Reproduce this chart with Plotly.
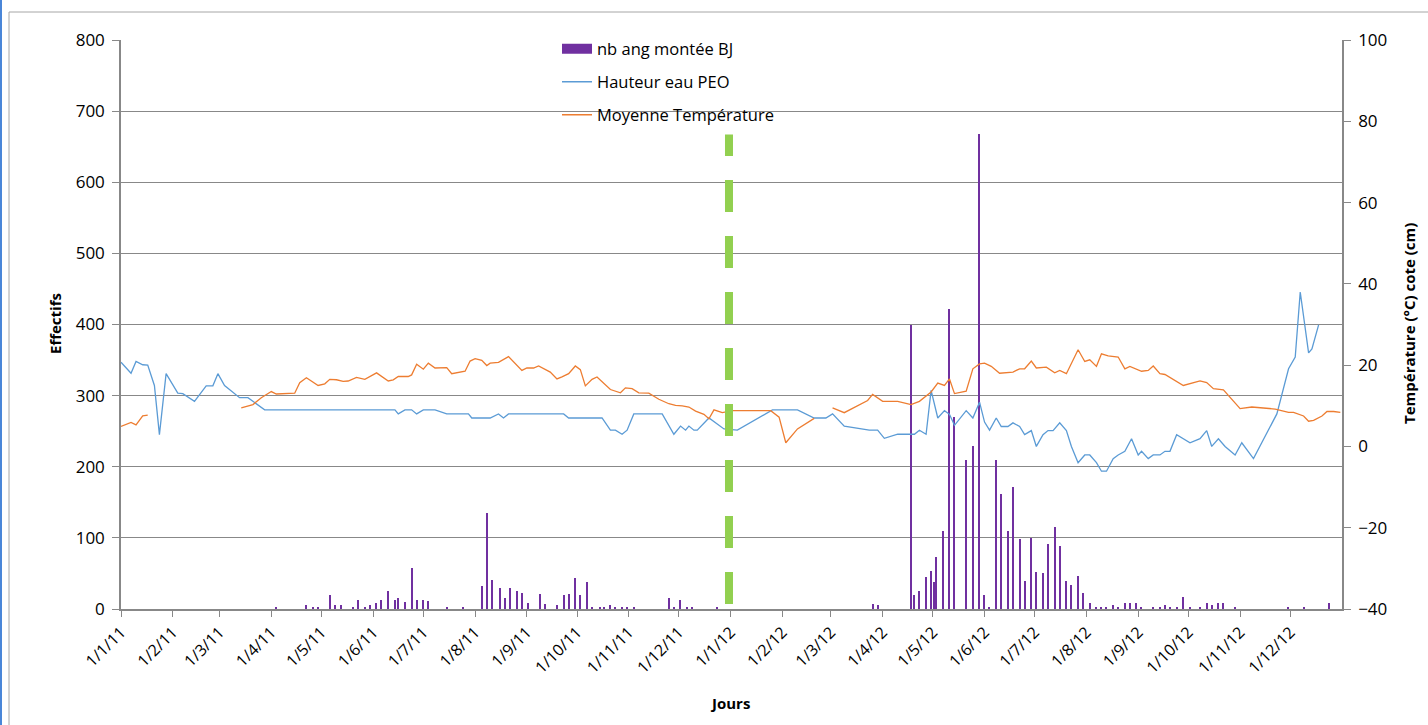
import plotly.graph_objects as go

# ---------------- data ----------------
bar_dates = [
    "2011-04-04", "2011-04-22", "2011-04-26", "2011-04-29", "2011-05-06", "2011-05-09", "2011-05-13",
    "2011-05-20", "2011-05-23", "2011-05-27", "2011-05-30", "2011-06-03", "2011-06-06", "2011-06-10",
    "2011-06-14", "2011-06-16", "2011-06-20", "2011-06-24", "2011-06-27", "2011-07-01", "2011-07-04",
    "2011-07-15", "2011-07-25", "2011-08-05", "2011-08-08", "2011-08-11", "2011-08-16", "2011-08-19",
    "2011-08-22", "2011-08-26", "2011-08-29", "2011-09-02", "2011-09-09", "2011-09-12", "2011-09-19",
    "2011-09-23", "2011-09-26", "2011-09-30", "2011-10-03", "2011-10-07", "2011-10-10", "2011-10-15",
    "2011-10-17", "2011-10-21", "2011-10-24", "2011-10-28", "2011-10-31", "2011-11-04", "2011-11-25",
    "2011-11-28", "2011-12-02", "2011-12-06", "2011-12-09", "2011-12-24",
    "2012-03-26", "2012-03-29", "2012-04-18", "2012-04-20", "2012-04-23", "2012-04-27", "2012-04-30",
    "2012-05-02", "2012-05-03", "2012-05-07", "2012-05-11", "2012-05-14", "2012-05-21", "2012-05-25",
    "2012-05-29", "2012-06-01", "2012-06-04", "2012-06-08", "2012-06-11", "2012-06-15", "2012-06-18",
    "2012-06-22", "2012-06-25", "2012-06-29", "2012-07-02", "2012-07-06", "2012-07-09", "2012-07-13",
    "2012-07-16", "2012-07-20", "2012-07-23", "2012-07-27", "2012-07-30", "2012-08-03", "2012-08-07",
    "2012-08-10", "2012-08-13", "2012-08-17", "2012-08-20", "2012-08-24", "2012-08-27", "2012-08-31",
    "2012-09-03", "2012-09-10", "2012-09-14", "2012-09-17", "2012-09-20", "2012-09-24", "2012-09-28",
    "2012-10-02", "2012-10-08", "2012-10-12", "2012-10-15", "2012-10-19", "2012-10-22", "2012-10-29",
    "2012-11-30", "2012-12-09", "2012-12-24",
]
nb_ang_montee = [
    2, 5, 3, 2, 19, 5, 6,
    2, 12, 3, 5, 9, 12, 25,
    13, 15, 10, 57, 12, 13, 11,
    3, 3, 33, 135, 41, 30, 16,
    30, 25, 23, 9, 21, 7, 6,
    19, 21, 43, 19, 38, 3, 2,
    3, 6, 3, 2, 3, 2, 16,
    3, 12, 3, 2, 2,
    7, 6, 400, 20, 25, 45, 53,
    38, 73, 110, 422, 270, 210, 229,
    668, 20, 3, 210, 161, 110, 172,
    98, 39, 100, 52, 50, 91, 115,
    88, 39, 34, 46, 23, 8, 2,
    3, 2, 5, 3, 8, 9, 8,
    2, 2, 3, 5, 3, 2, 17,
    2, 2, 9, 5, 9, 8, 2,
    2, 2, 8,
]

hauteur_dates = [
    "2011-01-01", "2011-01-07", "2011-01-10", "2011-01-14", "2011-01-17", "2011-01-21", "2011-01-24",
    "2011-01-28", "2011-02-04", "2011-02-07", "2011-02-14", "2011-02-21", "2011-02-25", "2011-02-28",
    "2011-03-04", "2011-03-13", "2011-03-18", "2011-03-28", "2011-06-14", "2011-06-16", "2011-06-20",
    "2011-06-24", "2011-06-27", "2011-07-01", "2011-07-08", "2011-07-15", "2011-07-28", "2011-07-30",
    "2011-08-10", "2011-08-15", "2011-08-18", "2011-08-21", "2011-09-23", "2011-09-26", "2011-10-16",
    "2011-10-21", "2011-10-24", "2011-10-28", "2011-10-31", "2011-11-04", "2011-11-21", "2011-11-28",
    "2011-12-02", "2011-12-05", "2011-12-07", "2011-12-10", "2011-12-12", "2011-12-19", "2011-12-28",
    "2012-01-05", "2012-01-26", "2012-02-10", "2012-02-20", "2012-02-27", "2012-03-02", "2012-03-09",
    "2012-03-24", "2012-03-29", "2012-04-02", "2012-04-10", "2012-04-20", "2012-04-23", "2012-04-27",
    "2012-04-30", "2012-05-04", "2012-05-08", "2012-05-11", "2012-05-14", "2012-05-21", "2012-05-25",
    "2012-05-29", "2012-06-01", "2012-06-04", "2012-06-08", "2012-06-11", "2012-06-15", "2012-06-18",
    "2012-06-22", "2012-06-25", "2012-06-29", "2012-07-02", "2012-07-06", "2012-07-09", "2012-07-12",
    "2012-07-16", "2012-07-20", "2012-07-23", "2012-07-27", "2012-07-31", "2012-08-03", "2012-08-07",
    "2012-08-10", "2012-08-13", "2012-08-17", "2012-08-20", "2012-08-24", "2012-08-28", "2012-09-01",
    "2012-09-03", "2012-09-07", "2012-09-10", "2012-09-14", "2012-09-17", "2012-09-20", "2012-09-24",
    "2012-09-28", "2012-10-02", "2012-10-08", "2012-10-12", "2012-10-15", "2012-10-19", "2012-10-23",
    "2012-10-29", "2012-11-02", "2012-11-09", "2012-11-23", "2012-11-30", "2012-12-04", "2012-12-07",
    "2012-12-12", "2012-12-14", "2012-12-18",
]
hauteur_eau_peo = [
    20.7, 18.0, 20.9, 20.1, 20.0, 15.0, 2.9,
    17.9, 13.1, 13.0, 11.1, 14.9, 14.9, 17.9,
    15.0, 12.0, 12.0, 9.0, 9.0, 8.0, 9.0,
    9.0, 8.0, 9.0, 9.0, 8.0, 8.0, 7.0,
    7.0, 8.0, 7.0, 8.0, 8.0, 7.0, 7.0,
    4.0, 4.0, 3.0, 4.0, 8.0, 8.0, 3.0,
    5.0, 4.0, 5.0, 4.0, 4.0, 7.0, 4.3,
    4.0, 9.0, 9.0, 7.0, 7.0, 8.0, 5.0,
    4.0, 4.0, 2.0, 3.0, 3.0, 4.0, 3.0,
    13.8, 7.0, 8.8, 7.9, 5.2, 8.8, 7.0,
    10.9, 6.0, 4.0, 7.0, 4.9, 4.9, 5.8,
    4.9, 2.9, 3.9, 0.0, 2.9, 3.9, 3.9,
    5.8, 3.9, 0.0, -4.0, -2.1, -2.1, -4.0,
    -6.1, -6.1, -3.0, -2.1, -1.2, 1.9, -2.1,
    -1.2, -3.0, -2.1, -2.1, -1.2, -1.2, 2.9,
    1.9, 0.9, 1.9, 3.9, 0.0, 1.9, 0.0,
    -2.1, 0.9, -3.0, 8.0, 19.1, 22.0, 38.0,
    23.0, 24.0, 29.9,
]

temp_dates = [
    "2011-01-01", "2011-01-07", "2011-01-10", "2011-01-14", "2011-01-17", "2011-02-15",
    "2011-03-14", "2011-03-21", "2011-03-26", "2011-04-01", "2011-04-04", "2011-04-15", "2011-04-18",
    "2011-04-22", "2011-04-29", "2011-05-03", "2011-05-06", "2011-05-10", "2011-05-14", "2011-05-17",
    "2011-05-22", "2011-05-27", "2011-06-03", "2011-06-10", "2011-06-13", "2011-06-16", "2011-06-22",
    "2011-06-24", "2011-06-27", "2011-07-01", "2011-07-04", "2011-07-08", "2011-07-15", "2011-07-18",
    "2011-07-26", "2011-07-29", "2011-08-01", "2011-08-05", "2011-08-08", "2011-08-10", "2011-08-15",
    "2011-08-18", "2011-08-21", "2011-08-29", "2011-09-01", "2011-09-05", "2011-09-08", "2011-09-15",
    "2011-09-19", "2011-09-22", "2011-09-26", "2011-09-30", "2011-10-03", "2011-10-06", "2011-10-10",
    "2011-10-13", "2011-10-21", "2011-10-27", "2011-10-30", "2011-11-03", "2011-11-07", "2011-11-13",
    "2011-11-19", "2011-11-25", "2011-11-29", "2011-12-03", "2011-12-07", "2011-12-11", "2011-12-16",
    "2011-12-19", "2011-12-22", "2011-12-27", "2012-01-02", "2012-01-25", "2012-01-30", "2012-02-03",
    "2012-02-10", "2012-02-20", "2012-02-25",
    "2012-03-02", "2012-03-09", "2012-03-23", "2012-03-26", "2012-04-01", "2012-04-10", "2012-04-18",
    "2012-04-23", "2012-04-30", "2012-05-04", "2012-05-08", "2012-05-11", "2012-05-14", "2012-05-21",
    "2012-05-25", "2012-05-29", "2012-06-01", "2012-06-05", "2012-06-10", "2012-06-18", "2012-06-22",
    "2012-06-25", "2012-06-29", "2012-07-02", "2012-07-08", "2012-07-13", "2012-07-16", "2012-07-20",
    "2012-07-27", "2012-07-31", "2012-08-03", "2012-08-07", "2012-08-10", "2012-08-14", "2012-08-20",
    "2012-08-24", "2012-08-27", "2012-09-03", "2012-09-07", "2012-09-10", "2012-09-14", "2012-09-17",
    "2012-09-28", "2012-10-08", "2012-10-12", "2012-10-16", "2012-10-22", "2012-11-01", "2012-11-08",
    "2012-11-22", "2012-11-30", "2012-12-03", "2012-12-09", "2012-12-12", "2012-12-15", "2012-12-20",
    "2012-12-23", "2012-12-27", "2012-12-31",
]
moyenne_temperature = [
    4.9, 5.9, 5.3, 7.5, 7.7, None,
    9.5, 10.3, 12.0, 13.5, 12.9, 13.1, 15.7,
    16.9, 15.0, 15.4, 16.5, 16.4, 16.0, 16.1,
    17.0, 16.5, 18.1, 16.1, 16.4, 17.2, 17.2,
    17.6, 20.2, 19.0, 20.5, 19.3, 19.4, 17.9,
    18.5, 21.0, 21.6, 21.2, 19.9, 20.5, 20.7,
    21.3, 22.1, 18.7, 19.3, 19.3, 19.8, 18.3,
    16.6, 17.1, 17.9, 19.8, 18.9, 14.9, 16.5,
    17.1, 14.0, 13.2, 14.4, 14.2, 13.2, 13.1,
    11.6, 10.5, 10.1, 10.0, 9.7, 8.7, 7.9,
    6.8, 9.0, 8.3, 8.8, 8.8, 7.2, 0.9,
    4.3, 6.9, None,
    9.5, 8.3, 11.3, 12.8, 11.1, 11.1, 10.3,
    11.1, 13.4, 15.6, 15.0, 16.6, 13.0, 13.6,
    19.1, 20.3, 20.5, 19.7, 18.0, 18.3, 19.1,
    19.1, 21.0, 19.3, 19.5, 18.1, 18.7, 17.9,
    23.8, 20.9, 21.3, 19.7, 22.8, 22.3, 22.0,
    19.1, 19.7, 18.5, 18.7, 19.8, 17.9, 17.7,
    15.0, 16.1, 15.7, 14.2, 13.9, 9.3, 9.7,
    9.2, 8.4, 8.4, 7.5, 6.2, 6.4, 7.5,
    8.6, 8.6, 8.4,
]

month_ticks = [f"{y}-{m:02d}-01" for y in (2011, 2012) for m in range(1, 13)]
month_labels = [f"1/{m}/{y - 2000}" for y in (2011, 2012) for m in range(1, 13)]

marker_date = "2011-12-31"   # vertical dashed marker (change of year)
marker_top = 667

# ---------------- style ----------------
FONT = "Open Sans"
GRID = "#888888"
PURPLE = "#7030A0"
BLUE = "#5B9BD5"
ORANGE = "#ED7D31"
GREEN = "#92D050"

fig = go.Figure()

fig.add_trace(go.Bar(
    x=bar_dates, y=nb_ang_montee, name="nb ang montée BJ",
    marker=dict(color=PURPLE, line=dict(width=0)),
    width=86400000 * 0.7, showlegend=False, yaxis="y",
))
# legend proxy for the bar series (wide rectangle swatch like the original)
fig.add_trace(go.Scatter(
    x=[None], y=[None], mode="lines", name="nb ang montée BJ",
    line=dict(color=PURPLE, width=10), legend="legend", yaxis="y",
))
fig.add_trace(go.Scatter(
    x=hauteur_dates, y=hauteur_eau_peo, mode="lines", name="Hauteur eau PEO",
    line=dict(color=BLUE, width=1.3), yaxis="y2", legend="legend2",
))
fig.add_trace(go.Scatter(
    x=temp_dates, y=moyenne_temperature, mode="lines", name="Moyenne Température",
    line=dict(color=ORANGE, width=1.3), yaxis="y2", legend="legend3",
    connectgaps=False,
))

W, H = 1428, 725
L, R, T, B = 121, 86, 40, 116
pw, ph = W - L - R, H - T - B


def px_x(px):
    return (px - L) / pw


def px_y(py):
    return (H - B - py) / ph


legend_common = dict(
    font=dict(family=FONT, size=16.5, color="#000000"),
    bgcolor="rgba(0,0,0,0)", borderwidth=0,
    xanchor="left", yanchor="middle",
    itemclick=False,
)

fig.update_layout(
    width=W, height=H, autosize=False,
    margin=dict(l=L, r=R, t=T, b=B, autoexpand=False),
    paper_bgcolor="white", plot_bgcolor="white",
    font=dict(family=FONT, size=16, color="#000000"),
    bargap=0,
    legend=dict(x=px_x(557), y=px_y(49), **legend_common),
    legend2=dict(x=px_x(557), y=px_y(82), **legend_common),
    legend3=dict(x=px_x(557), y=px_y(115), **legend_common),
    xaxis=dict(
        type="date", range=["2011-01-01", "2013-01-01"],
        tickvals=month_ticks, ticktext=month_labels, tickangle=-45,
        tickfont=dict(family=FONT, size=16, color="#000000"),
        ticks="outside", ticklen=6, tickcolor=GRID, tickwidth=1,
        showline=True, linecolor=GRID, linewidth=1.5,
        showgrid=False, zeroline=False,
    ),
    yaxis=dict(
        range=[0, 800], dtick=100, tick0=0,
        tickfont=dict(family=FONT, size=17, color="#000000"),
        ticks="outside", ticklen=7, tickcolor=GRID, ticklabelstandoff=4,
        showline=True, linecolor=GRID, linewidth=1.5,
        showgrid=True, gridcolor=GRID, gridwidth=1.2, zeroline=False,
    ),
    yaxis2=dict(
        range=[-40, 100], dtick=20, tick0=-40, overlaying="y", side="right",
        tickfont=dict(family=FONT, size=17, color="#000000"),
        ticks="outside", ticklen=7, tickcolor=GRID, ticklabelstandoff=4,
        showline=True, linecolor=GRID, linewidth=1.5,
        showgrid=False, zeroline=False,
    ),
    shapes=[
        dict(type="line", xref="x", yref="y", x0=marker_date, x1=marker_date,
             y0=7, y1=marker_top, line=dict(color=GREEN, width=8, dash="32px,24px"),
             layer="above"),
        # chart frame
        dict(type="line", xref="paper", yref="paper", x0=px_x(9), x1=px_x(1430),
             y0=px_y(12), y1=px_y(12), line=dict(color="#A6A6A6", width=1)),
        dict(type="line", xref="paper", yref="paper", x0=px_x(9), x1=px_x(9),
             y0=px_y(12), y1=px_y(730), line=dict(color="#A6A6A6", width=1)),
        dict(type="line", xref="paper", yref="paper", x0=px_x(1), x1=px_x(1),
             y0=px_y(0), y1=px_y(730), line=dict(color="#4A86D8", width=2)),
    ],
    annotations=[
        dict(text="<b>Effectifs</b>", xref="paper", yref="paper", x=px_x(55), y=px_y(324),
             xanchor="center", yanchor="middle",
             textangle=-90, showarrow=False, font=dict(family=FONT, size=15, color="#000000")),
        dict(text="<b>Température (°C) cote (cm)</b>", xref="paper", yref="paper",
             x=px_x(1409), y=px_y(324), xanchor="center", yanchor="middle",
             textangle=-90, showarrow=False,
             font=dict(family=FONT, size=15, color="#000000")),
        dict(text="<b>Jours</b>", xref="paper", yref="paper", x=px_x(730), y=px_y(703),
             xanchor="center", yanchor="middle",
             showarrow=False, font=dict(family=FONT, size=15, color="#000000")),
    ],
)

fig.write_html("out.html")
